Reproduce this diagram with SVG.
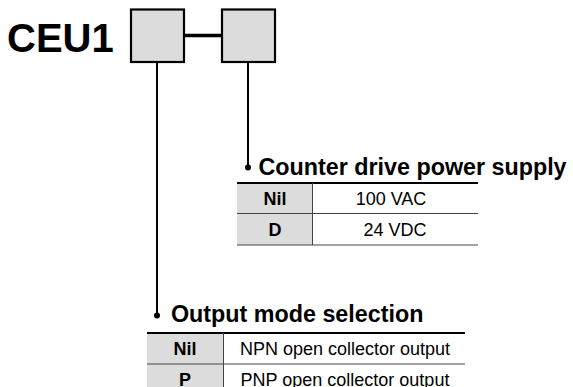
<svg xmlns="http://www.w3.org/2000/svg" width="573" height="387" viewBox="0 0 573 387">
<style>
.box{fill:#dcdcdc;stroke:#000;stroke-width:2.2}
.cell{fill:#dcdcdc}
.thick{stroke:#000;stroke-width:2.2}
.thin{stroke:#444;stroke-width:1}
.ttl{font-family:"Liberation Sans",Arial,sans-serif;font-weight:bold;font-size:23.3px;fill:#000}
.key{font-family:"Liberation Sans",Arial,sans-serif;font-weight:bold;font-size:18px;fill:#000;text-anchor:middle}
.val{font-family:"Liberation Sans",Arial,sans-serif;font-size:18px;fill:#000;text-anchor:middle}
.wire{stroke:#000;stroke-width:2;fill:none}
</style>
<rect width="573" height="387" fill="#fff"/>
<g id="code">
<text x="7" y="52" font-family="Liberation Sans, Arial, sans-serif" font-weight="bold" font-size="40">CEU1</text>
</g>
<g id="box1"><rect class="box" x="131" y="9.5" width="53" height="52.5"/></g>
<g id="box2"><rect class="box" x="222" y="9.5" width="53" height="52.5"/></g>
<g id="connectors">
<line x1="184" y1="35.5" x2="222" y2="35.5" stroke="#000" stroke-width="3.5"/>
<line class="wire" x1="248" y1="62" x2="248" y2="167.5"/>
<circle cx="248" cy="167.5" r="3"/>
<line class="wire" x1="157" y1="62" x2="157" y2="315.5"/>
<circle cx="157" cy="315.5" r="3"/>
</g>
<g id="power">
<text class="ttl" x="258.5" y="175">Counter drive power supply</text>
<rect class="cell" x="237" y="183" width="75.5" height="62"/>
<line class="thick" x1="237" y1="183" x2="478" y2="183"/>
<line class="thin" x1="237" y1="213.5" x2="478" y2="213.5"/>
<line class="thin" x1="237" y1="245" x2="478" y2="245"/>
<line class="thin" x1="312.5" y1="183" x2="312.5" y2="245"/>
<text class="key" x="275" y="205">Nil</text>
<text class="val" x="391" y="205">100 VAC</text>
<text class="key" x="275" y="236">D</text>
<text class="val" x="395" y="236">24 VDC</text>
</g>
<g id="output">
<text class="ttl" x="171" y="322">Output mode selection</text>
<rect class="cell" x="147" y="333" width="76.5" height="60"/>
<line class="thick" x1="147" y1="333" x2="465" y2="333"/>
<line class="thin" x1="147" y1="364" x2="465" y2="364"/>
<line class="thin" x1="223.5" y1="333" x2="223.5" y2="387"/>
<text class="key" x="185" y="355">Nil</text>
<text class="val" x="345" y="355">NPN open collector output</text>
<text class="key" x="185" y="386">P</text>
<text class="val" x="345" y="386">PNP open collector output</text>
</g>
</svg>
